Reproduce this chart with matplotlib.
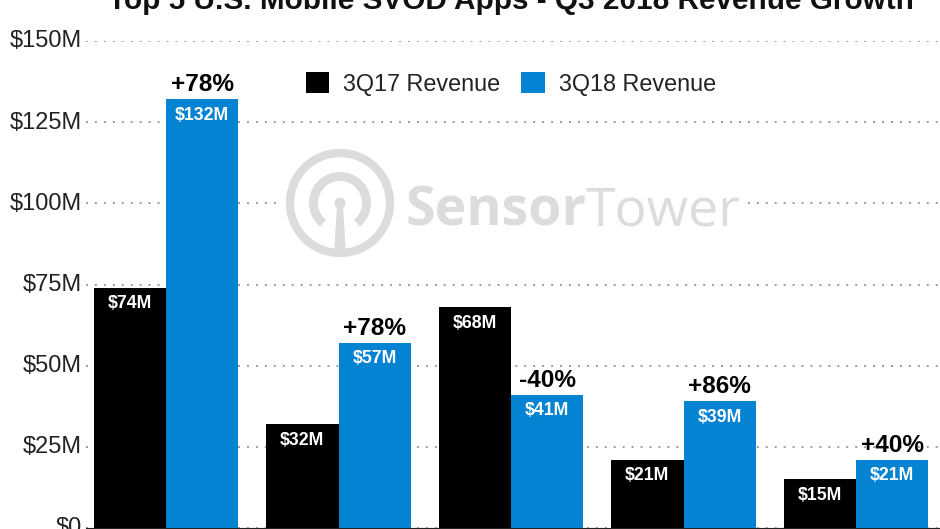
#!/usr/bin/env python3
import numpy as np
import matplotlib
matplotlib.use('Agg')
import matplotlib.pyplot as plt
from matplotlib.patches import Circle, Wedge, Polygon, Rectangle
from matplotlib.transforms import ScaledTranslation

plt.rcParams['font.family'] = ['Liberation Sans', 'DejaVu Sans']

title = 'Top 5 U.S. Mobile SVOD Apps - Q3 2018 Revenue Growth'
revenue_3q17 = [74, 32, 68, 21, 15]
revenue_3q18 = [132, 57, 41, 39, 21]
growth = ['+78%', '+78%', '-40%', '+86%', '+40%']
yticks = [0, 25, 50, 75, 100, 125, 150]
ytick_labels = ['$0', '$25M', '$50M', '$75M', '$100M', '$125M', '$150M']
series_names = ['3Q17 Revenue', '3Q18 Revenue']

W, H = 940, 529
BLUE = '#0483d2'
LOGO = '#dcdcdc'

fig = plt.figure(figsize=(W / 100, H / 100), dpi=100)
ax = fig.add_axes([86 / W, 1 - 528 / H, (W - 86) / W, (528 - 41) / H])

x = np.arange(len(revenue_3q17))
width = 0.418
b1 = ax.bar(x - width / 2, revenue_3q17, width, color='black', zorder=3, label=series_names[0])
b2 = ax.bar(x + width / 2, revenue_3q18, width, color=BLUE, zorder=3, label=series_names[1])

for bars, vals in ((b1, revenue_3q17), (b2, revenue_3q18)):
    for bar, v in zip(bars, vals):
        ax.annotate('$%dM' % v, (bar.get_x() + width / 2, v), xytext=(0, -11.5), textcoords='offset points',
                    ha='center', va='center', color='white', fontsize=12.8, fontweight='bold',
                    zorder=4, annotation_clip=False)

for i, label in enumerate(growth):
    ax.annotate(label, (i + width / 2, revenue_3q18[i]), xytext=(0, 10.5), textcoords='offset points',
                ha='center', va='center', color='black', fontsize=17.6, fontweight='bold',
                zorder=4, annotation_clip=False)

ax.set_xlim((86 - 166) / 172.5, (940 - 166) / 172.5)
ax.set_ylim(0, 150)
ax.set_xticks([])
ax.set_yticks(yticks)
ax.set_yticklabels(ytick_labels, fontsize=17, color='#222222')
ax.tick_params(axis='y', length=0, pad=3)
lift = ScaledTranslation(0, 1.5 / 72, fig.dpi_scale_trans)
for tick_label in ax.get_yticklabels():
    tick_label.set_transform(tick_label.get_transform() + lift)
ax.grid(axis='y', color='#9c9c9c', lw=1.4, linestyle=(0, (1, 3.6)), zorder=1)
ax.set_axisbelow(True)
for side in ('top', 'right', 'left'):
    ax.spines[side].set_visible(False)
ax.spines['bottom'].set_color('#222222')

ax.legend(handles=[b1, b2], loc='center left', bbox_to_anchor=(306 / W, 1 - 84 / H),
          bbox_transform=fig.transFigure, ncol=2, frameon=False, fontsize=16.8, labelcolor='#222222',
          handlelength=1, handleheight=1, handletextpad=0.6, columnspacing=0.9,
          borderpad=0, borderaxespad=0)

fig.text(511 / W, 1 - 9 / H, title, ha='center', va='baseline', fontsize=21.4, fontweight='bold', color='#111111')

# watermark, pixel coordinates
ov = fig.add_axes([0, 0, 1, 1], zorder=5)
ov.set_xlim(0, W)
ov.set_ylim(H, 0)
ov.axis('off')
ov.add_patch(Rectangle((281, 197), 464, 12, color='white', lw=0))
ov.add_patch(Circle((340, 203), 50, fill=False, ec=LOGO, lw=6))
# y axis is flipped, so the wedge angles run clockwise on screen
ov.add_patch(Wedge((340, 203), 31, 130, 50, width=9, color=LOGO, lw=0))
ov.add_patch(Circle((340, 203), 5.5, color=LOGO, lw=0))
ov.add_patch(Polygon([[337, 205], [343, 205], [346, 255], [334, 255]], color=LOGO, lw=0))
ov.text(406, 226, 'Sensor', fontsize=38.7, fontweight='bold', family='Open Sans', color=LOGO, va='baseline')
ov.text(586, 226, 'Tower', fontsize=38.5, family='Open Sans', color=LOGO, va='baseline')

fig.savefig('out.png', dpi=100)
